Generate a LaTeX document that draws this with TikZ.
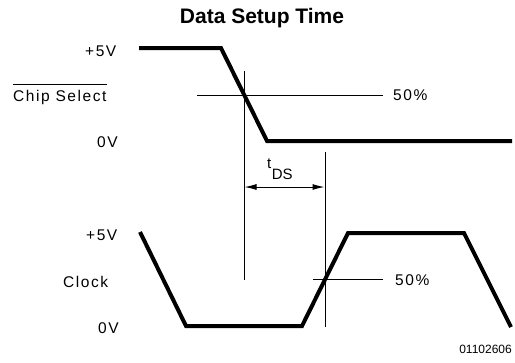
\documentclass[tikz,border=0pt]{standalone}
\usepackage{fontspec}
\setmainfont{Liberation Sans}
\newfontfamily\lblfont[LetterSpace=10]{Liberation Sans}
\usetikzlibrary{arrows.meta}
\begin{document}
\begin{tikzpicture}[x=1bp,y=-1bp,
  sig/.style={line width=4bp, line join=miter},
  thinline/.style={line width=1bp},
  lbl/.style={inner sep=0pt, anchor=base west, font={\lblfont\fontsize{15.5bp}{18bp}\selectfont}},
  >={Latex[length=12bp,width=6bp]}
]
\useasboundingbox (0,0) rectangle (515,362);
% title
\node[inner sep=0pt, anchor=base, font={\bfseries\fontsize{21bp}{24bp}\selectfont}] (title) at (262,23) {Data Setup Time};
% Chip select waveform
\coordinate (c1) at (139,48);
\coordinate (c2) at (221,48);
\coordinate (c3) at (267,141);
\coordinate (c4) at (512,141);
\draw[sig] (c1) -- (c2) -- (c3) -- (c4);
% Clock waveform
\coordinate (k1) at (140,232);
\coordinate (k2) at (186,326);
\coordinate (k3) at (302,326);
\coordinate (k4) at (348,233);
\coordinate (k5) at (464,233);
\coordinate (k6) at (511,327);
\draw[sig] (k1) -- (k2) -- (k3) -- (k4) -- (k5) -- (k6);
% 50% lines
\coordinate (h1a) at (197,95);
\coordinate (h1b) at (383,95);
\draw[thinline] (h1a) -- (h1b);
\coordinate (h2a) at (313,279);
\coordinate (h2b) at (383,279);
\draw[thinline] (h2a) -- (h2b);
% vertical reference lines
\coordinate (v1a) at (244,71);
\coordinate (v1b) at (244,280);
\draw[thinline] (v1a) -- (v1b);
\coordinate (v2a) at (325,152);
\coordinate (v2b) at (325,327);
\draw[thinline] (v2a) -- (v2b);
% tDS arrow
\coordinate (a1) at (244.5,187);
\coordinate (a2) at (324.5,187);
\draw[thinline, <->] (a1) -- (a2);
\node[inner sep=0pt, anchor=base west, font={\fontsize{15bp}{18bp}\selectfont}] (tds) at (267,179) {\raisebox{10.5bp}{t}\kern0.5bp DS};
% labels
\node[lbl] (p5a) at (85,56) {+5V};
\node[lbl] (cs) at (13,101) {Chip Select};
\coordinate (ol1) at (13,84);
\coordinate (ol2) at (107,84);
\draw[thinline] (ol1) -- (ol2);
\node[lbl] (z1) at (97,147) {0V};
\node[lbl] (p5b) at (86,240) {+5V};
\node[lbl] (clk) at (63,287) {Clock};
\node[lbl] (z2) at (98,333) {0V};
\node[lbl] (pc1) at (393,100) {50\%};
\node[lbl] (pc2) at (395,285) {50\%};
\node[inner sep=0pt, anchor=base east, font={\fontsize{12bp}{14bp}\selectfont}] (num) at (512,353) {01102606};
\end{tikzpicture}
\end{document}
